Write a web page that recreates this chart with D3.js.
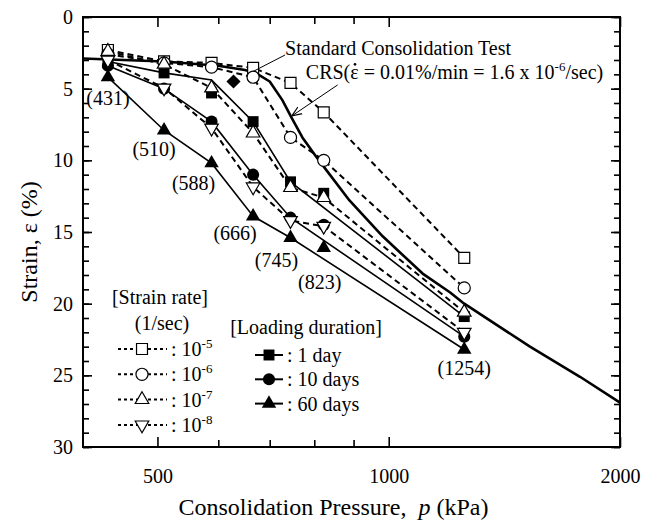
<!DOCTYPE html>
<html>
<head>
<meta charset="utf-8">
<script src="https://cdn.jsdelivr.net/npm/d3@7"></script>
<style>
  body { margin: 0; background: #fff; overflow: hidden; }
  svg { display: block; }
  svg text { font-family: "Liberation Serif", Tinos, "Times New Roman", Times, "DejaVu Serif", serif; fill: #000; }
</style>
</head>
<body>
<script>
// load steps (kPa) and strain (%)
const pressures = [431, 510, 588, 666, 745, 823, 1254];

const rate5 = [2.3, 3.1, 3.2, 3.55, 4.6, 6.65, 16.8];   // 10^-5 /sec
const rate6 = [2.6, 3.2, 3.5, 4.2, 8.4, 10.0, 18.9];    // 10^-6
const rate7 = [2.4, 3.3, 4.95, 8.1, 11.9, 12.6, 20.6];  // 10^-7
const rate8 = [3.0, 4.95, 7.75, 11.85, 14.2, 14.6, 22.0]; // 10^-8

const day1 = [3.2, 3.9, 5.3, 7.3, 11.5, 12.3, 20.9];
const day10 = [3.4, 5.0, 7.3, 11.0, 14.0, 14.5, 22.3];
const day60 = [4.2, 7.9, 10.2, 13.9, 15.4, 16.1, 23.2];

// solid curves of the loading duration tests
const durLineP = [431, 510, 588, 666, 745, 1254];
const day1Line = [3.1, 3.9, 4.4, 7.3, 11.5, 20.9];
const day10Line = [3.4, 5.0, 7.3, 11.0, 14.0, 22.3];
const day60Line = [4.2, 7.9, 10.2, 13.9, 15.4, 23.2];

// CRS test curve
const crsP = [400, 510, 600, 650, 671, 700, 727, 747, 772, 806, 830, 889, 982, 1107, 1201, 1254, 1527, 1774, 2000];
const crsE = [2.9, 3.1, 3.4, 3.7, 3.9, 4.5, 5.8, 7.0, 8.4, 9.8, 10.7, 12.8, 15.3, 17.9, 19.2, 20.0, 23.0, 25.1, 26.9];

// standard consolidation test point
const stdP = [628];
const stdE = [4.5];

const xTickMajor = [500, 1000, 2000];
const xTickMinor = [600, 700, 800, 900];
const yTickMajor = [0, 5, 10, 15, 20, 25, 30];
const yTickMinor = d3.range(0, 31);

const width = 654;
const height = 525;
const margin = {top: 17, right: 34, bottom: 78, left: 83};
const innerWidth = width - margin.left - margin.right;
const innerHeight = height - margin.top - margin.bottom;

const svg = d3.select("body").append("svg")
  .attr("width", width)
  .attr("height", height);

const g = svg.append("g")
  .attr("transform", `translate(${margin.left},${margin.top})`);

const x = d3.scaleLog().domain([400, 2000]).range([0, innerWidth]);
const y = d3.scaleLinear().domain([0, 30]).range([0, innerHeight]);

// axes, ticks pointing inward
const axisStyle = sel => {
  sel.attr("font-family", null);
  sel.select(".domain").remove();
  sel.selectAll("line").attr("stroke", "#000").attr("stroke-width", 1.6);
  sel.selectAll("text").attr("font-size", 20);
  sel.selectAll("text").filter(function() { return this.textContent === ""; }).remove();
};

g.append("g").attr("transform", `translate(0,${innerHeight})`)
  .call(d3.axisBottom(x).tickValues(xTickMajor).tickSizeInner(-10).tickSizeOuter(0)
    .tickPadding(22).tickFormat(d3.format("d")))
  .call(axisStyle);
g.append("g").attr("transform", `translate(0,${innerHeight})`)
  .call(d3.axisBottom(x).tickValues(xTickMinor).tickSizeInner(-7).tickSizeOuter(0).tickFormat(""))
  .call(axisStyle);
g.append("g")
  .call(d3.axisTop(x).tickValues(xTickMajor).tickSizeInner(-10).tickSizeOuter(0).tickFormat(""))
  .call(axisStyle);
g.append("g")
  .call(d3.axisTop(x).tickValues(xTickMinor).tickSizeInner(-7).tickSizeOuter(0).tickFormat(""))
  .call(axisStyle);

g.append("g")
  .call(d3.axisLeft(y).tickValues(yTickMajor).tickSizeInner(-9).tickSizeOuter(0).tickPadding(10))
  .call(axisStyle);
g.append("g")
  .call(d3.axisLeft(y).tickValues(yTickMinor).tickSizeInner(-6).tickSizeOuter(0).tickFormat(""))
  .call(axisStyle);
g.append("g").attr("transform", `translate(${innerWidth},0)`)
  .call(d3.axisRight(y).tickValues(yTickMajor).tickSizeInner(-9).tickSizeOuter(0).tickFormat(""))
  .call(axisStyle);
g.append("g").attr("transform", `translate(${innerWidth},0)`)
  .call(d3.axisRight(y).tickValues(yTickMinor).tickSizeInner(-6).tickSizeOuter(0).tickFormat(""))
  .call(axisStyle);

g.append("rect")
  .attr("width", innerWidth).attr("height", innerHeight)
  .attr("fill", "none").attr("stroke", "#000").attr("stroke-width", 2);

// axis titles
svg.append("text")
  .attr("x", margin.left + innerWidth / 2 - 18).attr("y", 515)
  .attr("text-anchor", "middle").attr("font-size", 24)
  .attr("xml:space", "preserve")
  .html('Consolidation Pressure,  <tspan font-style="italic">p</tspan> (kPa)');

svg.append("text")
  .attr("transform", `translate(37,${margin.top + innerHeight / 2 + 10}) rotate(-90)`)
  .attr("text-anchor", "middle").attr("font-size", 24)
  .text("Strain, ε (%)");

const line = d3.line().x(d => x(d[0])).y(d => y(d[1]));
const zip = (ps, es) => ps.map((p, i) => [p, es[i]]);

const rates = [
  {vals: rate5, sym: d3.symbolSquare, size: 120, rot: 0, exp: "-5"},
  {vals: rate6, sym: d3.symbolCircle, size: 115, rot: 0, exp: "-6"},
  {vals: rate7, sym: d3.symbolTriangle, size: 80, rot: 0, exp: "-7"},
  {vals: rate8, sym: d3.symbolTriangle, size: 80, rot: 180, exp: "-8"}
];
const durations = [
  {vals: day1, line: day1Line, sym: d3.symbolSquare, size: 120, rot: 0, name: ": 1 day"},
  {vals: day10, line: day10Line, sym: d3.symbolCircle, size: 115, rot: 0, name: ": 10 days"},
  {vals: day60, line: day60Line, sym: d3.symbolTriangle, size: 90, rot: 0, name: ": 60 days"}
];

// dashed strain rate lines
rates.forEach(r => {
  g.append("path")
    .attr("d", line(zip(pressures, r.vals)))
    .attr("fill", "none").attr("stroke", "#000")
    .attr("stroke-width", 2).attr("stroke-dasharray", "6,4");
});

// solid loading duration lines
durations.forEach(s => {
  g.append("path")
    .attr("d", line(zip(durLineP, s.line)))
    .attr("fill", "none").attr("stroke", "#000").attr("stroke-width", 1.6);
});

// CRS curve
g.append("path")
  .attr("d", line(zip(crsP, crsE)))
  .attr("fill", "none").attr("stroke", "#000").attr("stroke-width", 2.6)
  .attr("stroke-linejoin", "round");

// filled markers first, open on top
durations.forEach(s => {
  g.selectAll(null).data(zip(pressures, s.vals)).join("path")
    .attr("transform", d => `translate(${x(d[0])},${y(d[1])}) rotate(${s.rot})`)
    .attr("d", d3.symbol(s.sym, s.size))
    .attr("fill", "#000");
});
g.selectAll(null).data(zip(stdP, stdE)).join("path")
  .attr("transform", d => `translate(${x(d[0])},${y(d[1])}) rotate(45)`)
  .attr("d", d3.symbol(d3.symbolSquare, 100))
  .attr("fill", "#000");

rates.forEach(r => {
  g.selectAll(null).data(zip(pressures, r.vals)).join("path")
    .attr("transform", d => `translate(${x(d[0])},${y(d[1])}) rotate(${r.rot})`)
    .attr("d", d3.symbol(r.sym, r.size))
    .attr("fill", "#fff").attr("stroke", "#000").attr("stroke-width", 1.2);
});

// pressure labels beside the 60 day points
const labelOffset = [[0, 28], [-10, 26], [-18, 27], [-18, 24], [-14, 29], [-4, 41], [0, 25]];
g.selectAll(null).data(zip(pressures, day60)).join("text")
  .attr("x", (d, i) => x(d[0]) + labelOffset[i][0])
  .attr("y", (d, i) => y(d[1]) + labelOffset[i][1])
  .attr("text-anchor", "middle").attr("font-size", 20)
  .text(d => `(${d[0]})`);

// annotations
g.append("line")
  .attr("x1", x(733)).attr("y1", y(2.65))
  .attr("x2", x(666)).attr("y2", y(3.8))
  .attr("stroke", "#000").attr("stroke-width", 1);
g.append("text")
  .attr("x", x(733)).attr("y", y(2.65))
  .attr("font-size", 20)
  .text("Standard Consolidation Test");

svg.append("defs").append("marker")
  .attr("id", "arr").attr("viewBox", "0 0 10 10").attr("refX", 10).attr("refY", 5)
  .attr("markerWidth", 10).attr("markerHeight", 10).attr("orient", "auto")
  .attr("markerUnits", "userSpaceOnUse")
  .append("path").attr("d", "M0,1 L10,5 L0,9").attr("fill", "none")
  .attr("stroke", "#000").attr("stroke-width", 1.2);
g.append("line")
  .attr("x1", x(858)).attr("y1", y(4.74))
  .attr("x2", x(748)).attr("y2", y(6.9))
  .attr("stroke", "#000").attr("stroke-width", 1)
  .attr("marker-end", "url(#arr)");

const crsX = x(780);
const crsY = y(4.35);
const crsText = g.append("text")
  .attr("x", crsX).attr("y", crsY)
  .attr("font-size", 20);
crsText.append("tspan").text("CRS(");
crsText.append("tspan").text("ε");
crsText.append("tspan").text(" = 0.01%/min = 1.6 x 10");
crsText.append("tspan").attr("dy", -8).attr("font-size", 13).text("-6");
crsText.append("tspan").attr("dy", 8).text("/sec)");
// dot over epsilon
{
  const node = crsText.node();
  const pre = node.getSubStringLength(0, 4);
  const w = node.getSubStringLength(4, 1);
  g.append("circle")
    .attr("cx", crsX + pre + w / 2 + 0.5).attr("cy", crsY - 15)
    .attr("r", 1.3).attr("fill", "#000");
}

// strain rate legend
const lg1 = svg.append("g");
lg1.append("text").attr("x", 160).attr("y", 304).attr("text-anchor", "middle")
  .attr("font-size", 20).text("[Strain rate]");
lg1.append("text").attr("x", 162).attr("y", 330).attr("text-anchor", "middle")
  .attr("font-size", 20).text("(1/sec)");
rates.forEach((r, i) => {
  const cy = 349 + i * 25.3;
  lg1.append("line").attr("x1", 118).attr("x2", 167).attr("y1", cy).attr("y2", cy)
    .attr("stroke", "#000").attr("stroke-width", 2).attr("stroke-dasharray", "3,3");
  lg1.append("path")
    .attr("transform", `translate(142,${cy}) rotate(${r.rot})`)
    .attr("d", d3.symbol(r.sym, r.size))
    .attr("fill", "#fff").attr("stroke", "#000").attr("stroke-width", 1.2);
  const t = lg1.append("text").attr("x", 171).attr("y", cy + 7).attr("font-size", 20);
  t.append("tspan").text(": 10");
  t.append("tspan").attr("dy", -8).attr("font-size", 13).text(r.exp);
});

// loading duration legend
const lg2 = svg.append("g");
lg2.append("text").attr("x", 306).attr("y", 334).attr("text-anchor", "middle")
  .attr("font-size", 20).text("[Loading duration]");
durations.forEach((s, i) => {
  const cy = 355 + i * 24.3;
  lg2.append("line").attr("x1", 255).attr("x2", 283).attr("y1", cy).attr("y2", cy)
    .attr("stroke", "#000").attr("stroke-width", 2);
  lg2.append("path")
    .attr("transform", `translate(269,${cy})`)
    .attr("d", d3.symbol(s.sym, s.size))
    .attr("fill", "#000");
  lg2.append("text").attr("x", 287).attr("y", cy + 7).attr("font-size", 20).text(s.name);
});
</script>
</body>
</html>
